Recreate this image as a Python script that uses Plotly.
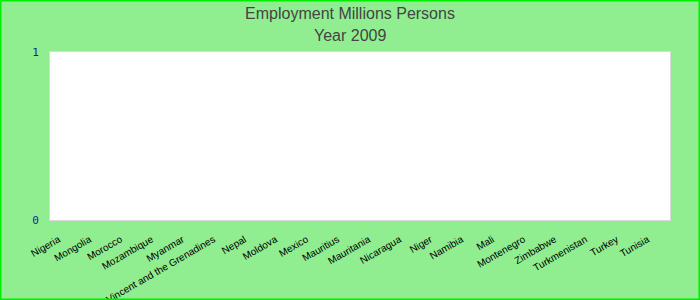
import plotly.graph_objects as go

countries = ["Nigeria", "Mongolia", "Morocco", "Mozambique", "Myanmar",
             "Saint Vincent and the Grenadines", "Nepal", "Moldova", "Mexico",
             "Mauritius", "Mauritania", "Nicaragua", "Niger", "Namibia", "Mali",
             "Montenegro", "Zimbabwe", "Turkmenistan", "Turkey", "Tunisia"]
employment = [None] * len(countries)
title_text = "Employment Millions Persons"
subtitle_text = "Year 2009"

fig = go.Figure(go.Bar(x=countries, y=employment, marker_color="#1f77b4"))

L, R, T, B = 50, 30, 52, 80
W, H = 700, 300
pw, ph = W - L - R, H - T - B
tfont = dict(family="Liberation Sans, Arial", size=16, color="#444")

fig.update_layout(
    width=W, height=H,
    margin=dict(l=L, r=R, t=T, b=B, autoexpand=False),
    paper_bgcolor="#90EE90",
    plot_bgcolor="white",
    title=dict(text=title_text, x=0.5, xref="container",
               yref="container", y=1 - 13 / H, yanchor="middle", font=tfont),
    showlegend=False,
    xaxis=dict(type="category", tickangle=-30, showgrid=False, automargin=False,
               ticklabelstandoff=9, ticklabelshift=-7,
               tickfont=dict(family="Liberation Sans, Arial", size=10, color="black"),
               showline=True, mirror=True, linecolor="#d9d9d9", linewidth=1,
               ticks=""),
    yaxis=dict(range=[0, 1], tickvals=[0, 1], showgrid=False, zeroline=False,
               automargin=False, ticklabelstandoff=8,
               tickfont=dict(family="DejaVu Sans Mono, monospace", size=11, color="#1a1aa0"),
               showline=True, mirror=True, linecolor="#d9d9d9", linewidth=1,
               ticks=""),
)

fig.add_annotation(text=subtitle_text, xref="paper", yref="paper",
                   x=(W / 2 - L) / pw, y=1 + (T - 36) / ph, yanchor="middle",
                   xanchor="center", showarrow=False, font=tfont)

fig.add_shape(type="rect", xref="paper", yref="paper",
              x0=-L / pw, x1=1 + R / pw, y0=-B / ph, y1=1 + T / ph,
              line=dict(color="#00EE00", width=3), fillcolor="rgba(0,0,0,0)", layer="above")

fig.write_html("out.html")
